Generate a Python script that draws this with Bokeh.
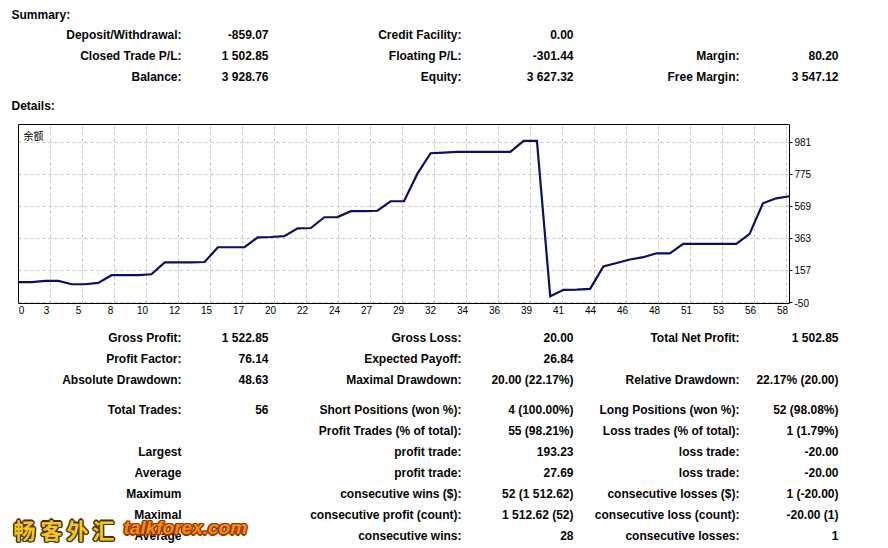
from bokeh.plotting import figure
from bokeh.models import Range1d, FixedTicker, CustomJSTickFormatter, Label
from bokeh.layouts import column
from bokeh.embed import file_html
from bokeh.resources import INLINE
from bokeh.core.properties import value

# ---------------- data ----------------
trade_index = list(range(59))
balance = [81, 81, 90, 90, 68, 68, 77, 126, 126, 127,
           132, 209, 209, 209, 211, 306, 306, 306, 370, 372,
           377, 428, 430, 499, 500, 538, 539, 541, 602, 602,
           778, 911, 915, 920, 920, 920, 920, 920, 990, 990,
           -10, 32, 33, 38, 182, 205, 227, 242, 267, 267,
           328, 328, 328, 328, 328, 392, 589, 621, 634]

x_tick_labels = ["0", "3", "5", "8", "10", "12", "15", "17", "20", "22", "24", "27", "29",
                 "32", "34", "36", "39", "41", "44", "46", "48", "51", "53", "56", "58"]
y_ticks = [-50, 157, 363, 569, 775, 981]
y_tick_labels = ["-50", "157", "363", "569", "775", "981"]
chart_title = "余额"

summary_title = "Summary:"
details_title = "Details:"
sum_lab1 = ["Deposit/Withdrawal:", "Closed Trade P/L:", "Balance:"]
sum_val1 = ["-859.07", "1 502.85", "3 928.76"]
sum_lab2 = ["Credit Facility:", "Floating P/L:", "Equity:"]
sum_val2 = ["0.00", "-301.44", "3 627.32"]
sum_lab3 = ["", "Margin:", "Free Margin:"]
sum_val3 = ["", "80.20", "3 547.12"]

det_lab1 = ["Gross Profit:", "Profit Factor:", "Absolute Drawdown:", "Total Trades:", "",
            "Largest", "Average", "Maximum", "Maximal", "Average"]
det_val1 = ["1 522.85", "76.14", "48.63", "56", "", "", "", "", "", ""]
det_lab2 = ["Gross Loss:", "Expected Payoff:", "Maximal Drawdown:", "Short Positions (won %):",
            "Profit Trades (% of total):", "profit trade:", "profit trade:",
            "consecutive wins ($):", "consecutive profit (count):", "consecutive wins:"]
det_val2 = ["20.00", "26.84", "20.00 (22.17%)", "4 (100.00%)", "55 (98.21%)", "193.23", "27.69",
            "52 (1 512.62)", "1 512.62 (52)", "28"]
det_lab3 = ["Total Net Profit:", "", "Relative Drawdown:", "Long Positions (won %):",
            "Loss trades (% of total):", "loss trade:", "loss trade:",
            "consecutive losses ($):", "consecutive loss (count):", "consecutive losses:"]
det_val3 = ["1 502.85", "", "22.17% (20.00)", "52 (98.08%)", "1 (1.79%)", "-20.00", "-20.00",
            "1 (-20.00)", "-20.00 (1)", "1"]

wm_chars = ["畅", "客", "外", "汇"]
wm_latin = "talkforex.com"

# ---------------- layout constants ----------------
W = 888
TOP_H, CHART_H, BOT_H = 118, 202, 228
FONT = value("Liberation Sans")
FS = "12px"
TXT = "#050505"


def text_fig(h):
    f = figure(width=W, height=h, x_range=Range1d(0, W), y_range=Range1d(h, 0),
               output_backend="svg", toolbar_location=None, min_border=0,
               x_axis_location=None, y_axis_location=None, frame_align=False)
    f.grid.visible = False
    f.outline_line_color = None
    f.background_fill_color = "white"
    f.border_fill_color = "white"
    return f


def put(f, xs, ys, texts, align="right", size=FS, style="bold", color=TXT):
    f.text(x=xs, y=ys, text=texts, text_align=align, text_baseline="middle",
           text_font=FONT, text_font_style=style, text_font_size=size, text_color=color)


# ---------------- top summary ----------------
top = text_fig(TOP_H)
put(top, [11], [14], [summary_title], align="left")
put(top, [11], [105], [details_title], align="left")
rows_top = [34, 55, 76]
for labs, vals, xl, xv in [(sum_lab1, sum_val1, 181, 268),
                           (sum_lab2, sum_val2, 461, 573),
                           (sum_lab3, sum_val3, 739, 838)]:
    put(top, [xl] * 3, rows_top, labs)
    put(top, [xv] * 3, rows_top, vals)

# ---------------- chart ----------------
x_end = trade_index[-1]
y_lo, y_hi = -56, 1096
p = figure(width=W, height=CHART_H, x_range=Range1d(0, x_end), y_range=Range1d(y_lo, y_hi),
           y_axis_location="right", output_backend="svg", toolbar_location=None,
           min_border_left=18, min_border_right=99, min_border_top=6, min_border_bottom=17,
           frame_align=False)
p.background_fill_color = "white"
p.border_fill_color = "white"
p.outline_line_color = "black"
p.outline_line_width = 1

frame_w = W - 18 - 99
px_per_idx = frame_w / x_end
grid_step = 32 / px_per_idx
grid_ticks = [i * grid_step for i in range(len(x_tick_labels))]
label_ticks = [t - 4 / px_per_idx for t in grid_ticks]
label_ticks[0] = 3 / px_per_idx

p.xaxis.ticker = FixedTicker(ticks=label_ticks)
p.xaxis.formatter = CustomJSTickFormatter(args=dict(labels=x_tick_labels),
                                          code="return labels[index];")
p.xgrid.ticker = FixedTicker(ticks=grid_ticks)
p.yaxis.ticker = FixedTicker(ticks=y_ticks)
p.yaxis.formatter = CustomJSTickFormatter(args=dict(labels=y_tick_labels),
                                          code="return labels[index];")
for ax in (p.xaxis, p.yaxis):
    ax.axis_line_color = None
    ax.major_label_text_font = "Liberation Sans"
    ax.major_label_text_font_size = "10px"
    ax.major_label_text_color = "black"
    ax.minor_tick_line_color = None
    ax.major_tick_in = 0
p.xaxis.major_tick_out = 0
p.xaxis.major_label_standoff = 2
p.yaxis.major_tick_out = 3
p.yaxis.major_tick_line_color = "black"
p.yaxis.major_label_standoff = 2

for g in (p.xgrid, p.ygrid):
    g.grid_line_color = "#c4c4c4"
    g.grid_line_dash = "3 3"
    g.grid_line_width = 1

p.line(trade_index, balance, line_color="#0d0d6b", line_width=2.2, line_join="miter")

p.add_layout(Label(x=0, y=y_hi, x_offset=5, y_offset=-3, text=chart_title,
                   text_font="Noto Sans CJK SC", text_font_size="10px",
                   text_baseline="top", text_color="black"))

# ---------------- bottom details ----------------
bot = text_fig(BOT_H)
rows_bot = [17, 38, 59, 89, 110, 131, 152, 173, 194, 215]
for labs, vals, xl, xv in [(det_lab1, det_val1, 181, 268),
                           (det_lab2, det_val2, 461, 573),
                           (det_lab3, det_val3, 739, 838)]:
    put(bot, [xl] * len(labs), rows_bot, labs)
    put(bot, [xv] * len(vals), rows_bot, vals)

# watermark (outline made of offset copies)
wm_x = [24, 51, 77, 103]
wm_y = [208] * 4
offsets = [(-1, -1), (1, -1), (-1, 1), (1, 1), (0, 1.5), (1.5, 0), (-1.5, 0), (0, -1.5)]
for dx, dy in offsets:
    bot.text(x=wm_x, y=wm_y, text=wm_chars, x_offset=dx, y_offset=dy, text_align="center",
             text_baseline="middle", text_font=value("Noto Sans CJK SC"), text_font_style="bold",
             text_font_size="22px", text_color="#4a2e00")
    bot.text(x=[123], y=[207], text=[wm_latin], x_offset=dx, y_offset=dy, text_align="left",
             text_baseline="middle", text_font=FONT, text_font_style="bold italic",
             text_font_size="19px", text_color="#8a3a00")
bot.text(x=wm_x, y=wm_y, text=wm_chars, text_align="center", text_baseline="middle",
         text_font=value("Noto Sans CJK SC"), text_font_style="bold",
         text_font_size="22px", text_color="#f2c81e")
bot.text(x=[123], y=[207], text=[wm_latin], text_align="left", text_baseline="middle",
         text_font=FONT, text_font_style="bold italic", text_font_size="19px",
         text_color="#ff8a00")

layout = column(top, p, bot, spacing=0)
open("out.html", "w").write(file_html(layout, INLINE))
